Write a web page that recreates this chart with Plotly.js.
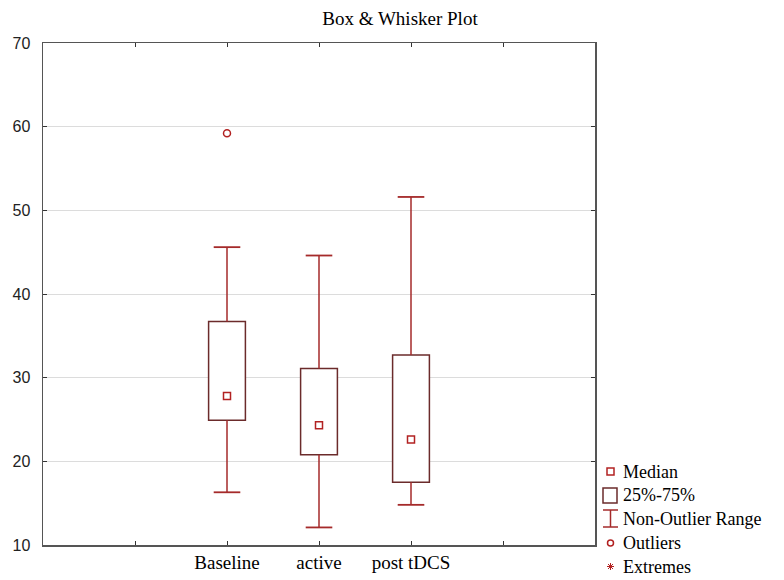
<!DOCTYPE html>
<html>
<head>
<meta charset="utf-8">
<script src="https://cdn.plot.ly/plotly-3.0.1.min.js"></script>
<style>html,body{margin:0;padding:0;background:#fff;}#chart{width:784px;height:580px;}</style>
</head>
<body>
<div id="chart"></div>
<script>
// ---- data ----
const categories = ['Baseline', 'active', 'post tDCS'];
const q1 = [24.9, 20.8, 17.5];
const medians = [27.8, 24.3, 22.6];
const q3 = [36.7, 31.1, 32.7];
const lowerWhisker = [16.3, 12.1, 14.8];
const upperWhisker = [45.6, 44.6, 51.6];
const outlierCategory = ['Baseline'];
const outlierValues = [59.2];
const tickLabels = ['', 'Baseline', 'active', 'post tDCS', ''];
const legendLabels = ['Median', '25%-75%', 'Non-Outlier Range', 'Outliers', 'Extremes'];

// ---- positions on a linear axis (slot 1 and 5 are empty) ----
const pos = categories.map((c, i) => i + 2);
const posOf = c => categories.indexOf(c) + 2;

const whiskerCol = '#a52a2a';
const boxCol = '#6b2b2b';
const medCol = '#b22222';

// whisker segments
const wx = [], wy = [];
pos.forEach((p, i) => {
  wx.push(p, p, null, p, p, null);
  wy.push(q3[i], upperWhisker[i], null, q1[i], lowerWhisker[i], null);
});
const capX = pos.concat(pos);
const capY = upperWhisker.concat(lowerWhisker);

const traces = [
  {type: 'bar', x: pos, base: q1, y: q3.map((v, i) => v - q1[i]), width: 0.4,
   marker: {color: '#ffffff', line: {color: boxCol, width: 1.5}}, hoverinfo: 'skip', showlegend: false},
  {type: 'scatter', mode: 'lines', x: wx, y: wy, line: {color: whiskerCol, width: 1.5},
   hoverinfo: 'skip', showlegend: false},
  {type: 'scatter', mode: 'markers', x: capX, y: capY,
   marker: {symbol: 'line-ew-open', size: 19, color: whiskerCol, line: {color: whiskerCol, width: 1.8}},
   hoverinfo: 'skip', showlegend: false},
  {type: 'scatter', mode: 'markers', x: pos, y: medians,
   marker: {symbol: 'square-open', size: 7, color: medCol, line: {color: medCol, width: 1.5}},
   showlegend: false},
  {type: 'scatter', mode: 'markers', x: outlierCategory.map(posOf), y: outlierValues,
   marker: {symbol: 'circle-open', size: 7, color: medCol, line: {color: medCol, width: 1.5}},
   showlegend: false}
];

// ---- custom legend (paper coords derived from pixel layout) ----
const L = 43, R = 595, T = 43, B = 545;
const px = x => (x - L) / (R - L);
const py = y => (B - y) / (B - T);
const legY = [471.5, 495, 518.5, 543, 566.5];

const shapes = [
  {type: 'rect', xref: 'paper', yref: 'paper', x0: px(607), x1: px(614), y0: py(legY[0] - 3.5), y1: py(legY[0] + 3.5),
   line: {color: medCol, width: 1.5}},
  {type: 'rect', xref: 'paper', yref: 'paper', x0: px(603), x1: px(617), y0: py(488), y1: py(503),
   line: {color: boxCol, width: 1.5}},
  {type: 'line', xref: 'paper', yref: 'paper', x0: px(603), x1: px(618), y0: py(510), y1: py(510),
   line: {color: whiskerCol, width: 1.5}},
  {type: 'line', xref: 'paper', yref: 'paper', x0: px(610.5), x1: px(610.5), y0: py(510), y1: py(527),
   line: {color: whiskerCol, width: 1.5}},
  {type: 'line', xref: 'paper', yref: 'paper', x0: px(603), x1: px(618), y0: py(527), y1: py(527),
   line: {color: whiskerCol, width: 1.5}},
  {type: 'circle', xref: 'paper', yref: 'paper', x0: px(607.5), x1: px(613.5), y0: py(legY[3] - 3), y1: py(legY[3] + 3),
   line: {color: medCol, width: 1.5}},
  {type: 'path', xref: 'paper', yref: 'paper',
   path: ['M', px(607), py(legY[4]), 'L', px(614), py(legY[4]),
          'M', px(610.5), py(legY[4] - 3.5), 'L', px(610.5), py(legY[4] + 3.5),
          'M', px(608), py(legY[4] - 2.5), 'L', px(613), py(legY[4] + 2.5),
          'M', px(608), py(legY[4] + 2.5), 'L', px(613), py(legY[4] - 2.5)].join(' '),
   line: {color: medCol, width: 1}}
];

const annotations = legendLabels.map((t, i) => ({
  text: t, xref: 'paper', yref: 'paper', x: px(621), y: py(legY[i]),
  xanchor: 'left', yanchor: 'middle', showarrow: false,
  font: {family: 'Liberation Serif, Times New Roman, serif', size: 18, color: '#000'}
}));

const layout = {
  width: 784, height: 580,
  margin: {l: L, r: 784 - R, t: T, b: 580 - B, pad: 0},
  paper_bgcolor: '#ffffff', plot_bgcolor: '#ffffff',
  showlegend: false,
  title: {text: 'Box &amp; Whisker Plot', xref: 'container', yref: 'container',
          x: 400 / 784, xanchor: 'center', y: 1 - 18 / 580, yanchor: 'middle',
          font: {family: 'Liberation Serif, Times New Roman, serif', size: 19, color: '#000'}},
  xaxis: {type: 'linear', range: [0, 6], tickvals: [1, 2, 3, 4, 5], ticktext: tickLabels,
          showgrid: false, zeroline: false, showline: true, mirror: 'ticks',
          linecolor: '#555', linewidth: 1.5, ticks: 'inside', ticklen: 4, tickcolor: '#333', tickwidth: 1,
          tickfont: {family: 'Liberation Serif, Times New Roman, serif', size: 19, color: '#000'},
          fixedrange: true},
  yaxis: {range: [10, 70], dtick: 10, tick0: 10, showgrid: true, gridcolor: '#dcdcdc', gridwidth: 1,
          zeroline: false, showline: true, mirror: 'ticks', linecolor: '#555', linewidth: 1.5,
          ticks: 'inside', ticklen: 4, tickcolor: '#333', tickwidth: 1, ticklabelstandoff: 8,
          tickfont: {family: 'Liberation Sans, Arial, sans-serif', size: 16, color: '#222'},
          fixedrange: true},
  shapes: shapes,
  annotations: annotations,
  bargap: 0
};

Plotly.newPlot('chart', traces, layout, {displayModeBar: false, staticPlot: true});
</script>
</body>
</html>
